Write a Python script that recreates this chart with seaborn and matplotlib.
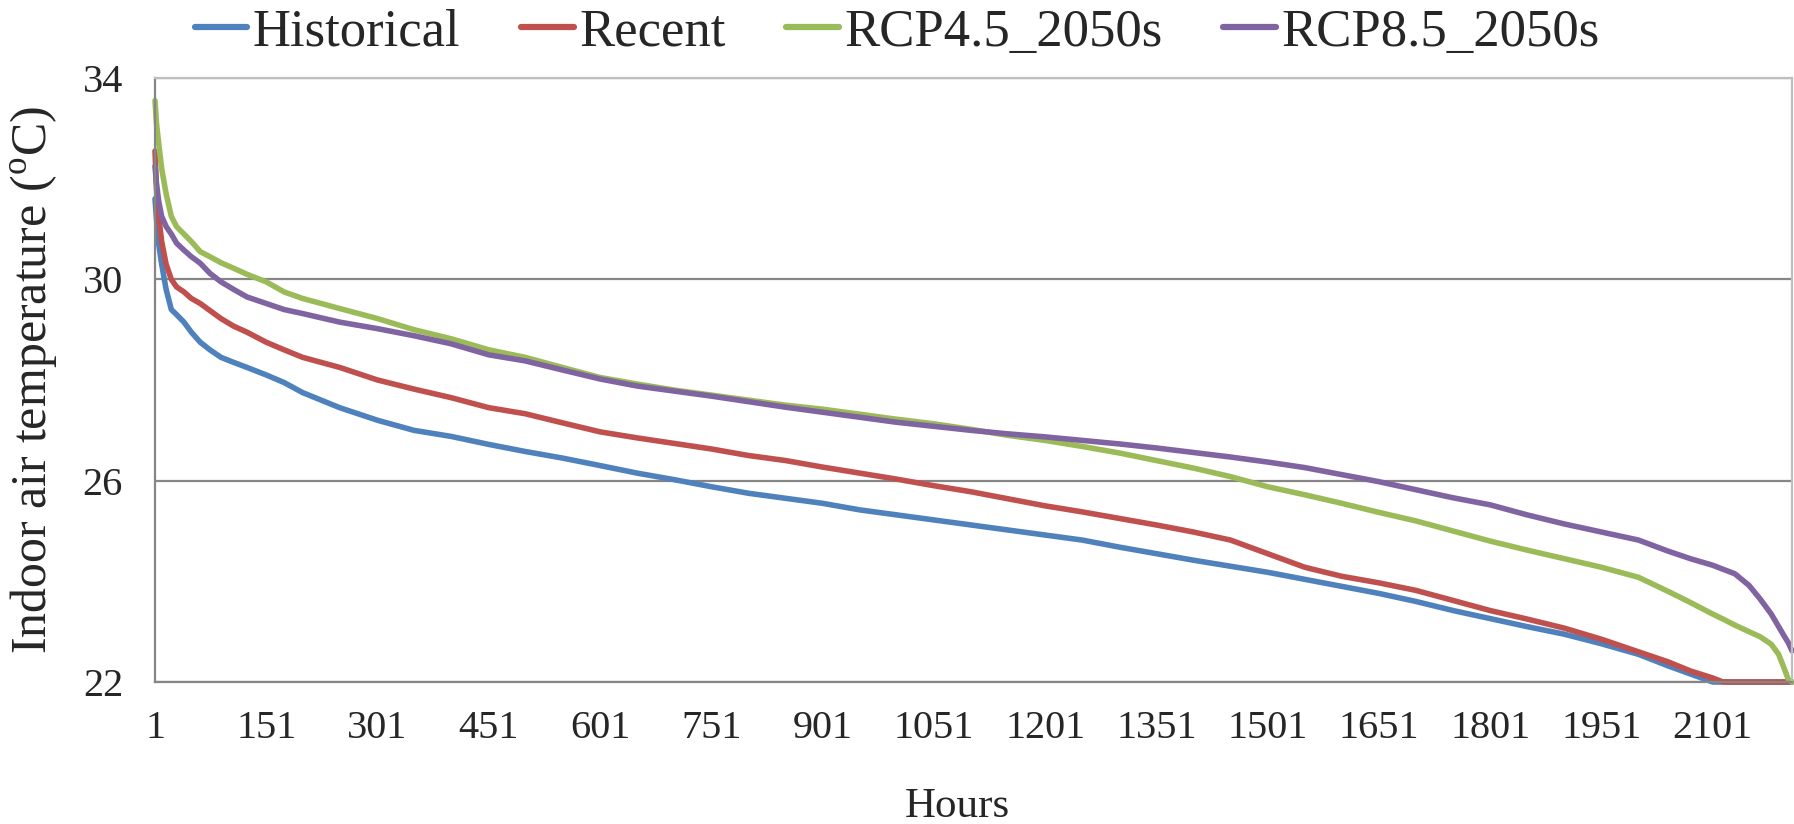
import numpy as np
import pandas as pd
import matplotlib
matplotlib.use("Agg")
import matplotlib.pyplot as plt
import seaborn as sns

hours = [1, 3, 6, 10, 16, 23, 30, 40, 50, 62, 75, 90, 107, 125, 151, 175, 200, 250,
         301, 350, 400, 451, 500, 550, 601, 651, 701, 751, 801, 851, 901, 951, 1001,
         1051, 1101, 1151, 1201, 1251, 1301, 1351, 1401, 1451, 1501, 1551, 1601, 1651,
         1701, 1751, 1801, 1851, 1901, 1951, 2001, 2041, 2071, 2101, 2115, 2131, 2150,
         2165, 2180, 2190, 2198, 2203, 2208]

historical = [31.6, 31.2, 30.7, 30.3, 29.8, 29.4, 29.3, 29.15, 28.95, 28.75, 28.6, 28.45,
              28.35, 28.25, 28.1, 27.95, 27.75, 27.45, 27.2, 27.0, 26.88, 26.72, 26.58,
              26.45, 26.3, 26.15, 26.02, 25.88, 25.75, 25.65, 25.55, 25.42, 25.32, 25.22,
              25.12, 25.02, 24.92, 24.82, 24.68, 24.55, 24.42, 24.3, 24.18, 24.04, 23.9,
              23.76, 23.6, 23.42, 23.26, 23.1, 22.95, 22.76, 22.55, 22.32, 22.16, 22.0,
              22.0, 22.0, 22.0, 22.0, 22.0, 22.0, 22.0, 22.0, 22.0]

recent = [32.55, 31.8, 31.25, 30.75, 30.3, 30.0, 29.85, 29.75, 29.62, 29.52, 29.38, 29.22,
          29.07, 28.95, 28.75, 28.6, 28.45, 28.25, 28.0, 27.82, 27.65, 27.45, 27.33, 27.15,
          26.97, 26.85, 26.74, 26.63, 26.5, 26.4, 26.27, 26.15, 26.03, 25.9, 25.78, 25.64,
          25.5, 25.38, 25.25, 25.12, 24.98, 24.82, 24.55, 24.28, 24.1, 23.97, 23.82, 23.62,
          23.42, 23.25, 23.07, 22.85, 22.6, 22.4, 22.22, 22.08, 22.0, 22.0, 22.0, 22.0,
          22.0, 22.0, 22.0, 22.0, 22.0]

rcp45 = [33.55, 33.1, 32.7, 32.2, 31.7, 31.25, 31.05, 30.9, 30.75, 30.55, 30.45, 30.33,
         30.22, 30.1, 29.95, 29.75, 29.62, 29.42, 29.22, 29.0, 28.82, 28.6, 28.45, 28.25,
         28.05, 27.92, 27.8, 27.7, 27.6, 27.5, 27.42, 27.32, 27.22, 27.13, 27.02, 26.9,
         26.8, 26.68, 26.55, 26.4, 26.25, 26.08, 25.88, 25.72, 25.55, 25.37, 25.2, 25.0,
         24.8, 24.62, 24.45, 24.28, 24.08, 23.8, 23.58, 23.35, 23.25, 23.13, 23.0, 22.9,
         22.75, 22.55, 22.25, 22.05, 22.0]

rcp85 = [32.25, 31.9, 31.55, 31.25, 31.05, 30.9, 30.72, 30.58, 30.45, 30.32, 30.12, 29.95,
         29.8, 29.65, 29.52, 29.4, 29.32, 29.15, 29.02, 28.88, 28.72, 28.5, 28.38, 28.2,
         28.02, 27.88, 27.78, 27.68, 27.57, 27.46, 27.36, 27.26, 27.16, 27.08, 27.0, 26.93,
         26.87, 26.8, 26.73, 26.65, 26.56, 26.47, 26.37, 26.26, 26.12, 25.98, 25.82, 25.66,
         25.52, 25.32, 25.14, 24.98, 24.82, 24.6, 24.45, 24.32, 24.24, 24.15, 23.92, 23.65,
         23.35, 23.1, 22.9, 22.78, 22.62]

series_names = ["Historical", "Recent", "RCP4.5_2050s", "RCP8.5_2050s"]
colors = ["#4F81BD", "#C0504D", "#9BBB59", "#8064A2"]
x_ticks = [1, 151, 301, 451, 601, 751, 901, 1051, 1201, 1351, 1501, 1651, 1801, 1951, 2101]
y_ticks = [22, 26, 30, 34]

df = pd.DataFrame({"Hours": hours, "Historical": historical, "Recent": recent,
                   "RCP4.5_2050s": rcp45, "RCP8.5_2050s": rcp85})
long = df.melt(id_vars="Hours", var_name="Scenario", value_name="Temp")

sns.set_theme(style="white")
plt.rcParams["font.family"] = ["Liberation Serif", "DejaVu Serif"]
plt.rcParams["mathtext.fontset"] = "custom"
plt.rcParams["mathtext.rm"] = "Liberation Serif"

fig = plt.figure(figsize=(17.94, 8.24), dpi=100)
ax = fig.add_axes([155 / 1794, 1 - 682 / 824, (1792 - 155) / 1794, (682 - 78) / 824])

sns.lineplot(data=long, x="Hours", y="Temp", hue="Scenario", hue_order=series_names,
             palette=colors, linewidth=4, errorbar=None, ax=ax, sort=False)
for ln in ax.lines:
    ln.set_clip_on(False)
    ln.set_solid_joinstyle("round")

handles, labels = ax.get_legend_handles_labels()
for h in handles:
    h.set_linewidth(4.5)
    h.set_solid_capstyle("round")
ax.get_legend().remove()
fig.legend(handles, labels, loc="center", bbox_to_anchor=(0.500, 0.960), ncol=4,
           frameon=False, fontsize=38, handlelength=1.0, handletextpad=0.1,
           columnspacing=1.15)

ax.set_xlim(1, 2208)
ax.set_ylim(22, 34)
ax.set_xticks(x_ticks)
ax.set_xticklabels([str(t) for t in x_ticks])
ax.set_yticks(y_ticks)
ax.set_yticklabels([str(t) for t in y_ticks])
ax.tick_params(axis="both", which="major", labelsize=29, length=9, width=1.5,
               color="#868686", direction="out")
ax.tick_params(axis="x", pad=11)
ax.tick_params(axis="y", pad=14)
ax.yaxis.grid(True, color="#868686", linewidth=1.6)
ax.xaxis.grid(False)
ax.set_axisbelow(True)
for side in ["left", "bottom"]:
    ax.spines[side].set_color("#868686")
    ax.spines[side].set_linewidth(1.6)
for side in ["top", "right"]:
    ax.spines[side].set_color("#BFBFBF")
    ax.spines[side].set_linewidth(1.6)

ax.set_xlabel("Hours", fontsize=31)
ax.set_ylabel(r"Indoor air temperature ($^{\mathrm{o}}$C)", fontsize=36)
ax.xaxis.label.set_va("center")
ax.yaxis.label.set_va("center")
ax.xaxis.set_label_coords(0.49, -0.207)
ax.yaxis.set_label_coords(-0.074, 0.5)

fig.savefig("out.png", dpi=100)
